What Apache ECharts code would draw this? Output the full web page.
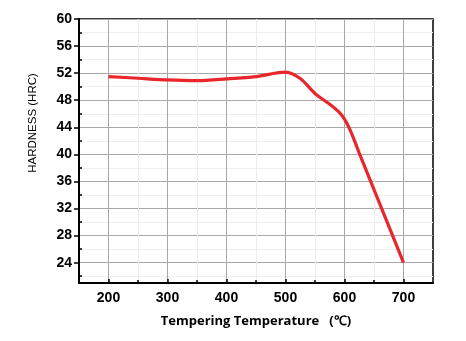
<!DOCTYPE html>
<html>
<head>
<meta charset="utf-8">
<script src="https://cdn.jsdelivr.net/npm/echarts@6/dist/echarts.min.js"></script>
<style>html,body{margin:0;padding:0;background:#fff}#c{width:466px;height:341px}</style>
</head>
<body>
<div id="c"></div>
<script>
var temps = [200, 250, 300, 350, 400, 450, 500, 525, 550, 575, 590, 600, 610, 625, 650, 675, 700];
var hardness = [51.5, 51.25, 51.0, 50.9, 51.15, 51.5, 52.15, 51.2, 49.0, 47.4, 46.3, 45.2, 43.5, 40.2, 34.8, 29.4, 24.0];
var xMajor = [200, 300, 400, 500, 600, 700];
var xMinor = [250, 350, 450, 550, 650];
var yMajor = [24, 28, 32, 36, 40, 44, 48, 52, 56, 60];
var yMinor = [22, 26, 30, 34, 38, 42, 46, 50, 54, 58];
var xTitle = 'Tempering Temperature   (\u2103)';
var yTitle = 'HARDNESS (HRC)';

var chart = echarts.init(document.getElementById('c'), null, {renderer: 'canvas'});
var labelFont = {color: '#000', fontWeight: 'bold', fontSize: 14, fontFamily: 'Liberation Sans, Arial, sans-serif'};
chart.setOption({
  animation: false,
  backgroundColor: '#fff',
  grid: {left: 79, right: 33, top: 19, bottom: 58, show: true, borderColor: '#000', borderWidth: 1.5, containLabel: false},
  xAxis: [{
    type: 'value', min: 150, max: 750, position: 'bottom',
    name: xTitle, nameLocation: 'middle', nameGap: 32,
    nameTextStyle: {color: '#000', fontWeight: 'bold', fontSize: 13, fontFamily: 'Open Sans, sans-serif'},
    axisLine: {show: true, lineStyle: {color: '#000', width: 2}},
    axisTick: {show: true, inside: true, length: 4, customValues: xMajor, lineStyle: {color: '#000', width: 1.5}},
    axisLabel: Object.assign({customValues: xMajor, margin: 8}, labelFont),
    splitLine: {show: true, lineStyle: {color: '#a8a8a8', width: 1}}
  }, {
    type: 'value', min: 150, max: 750, position: 'bottom', offset: 0,
    axisLine: {show: false},
    axisTick: {show: true, inside: true, length: 3, customValues: xMinor, lineStyle: {color: '#000', width: 1.5}},
    axisLabel: {show: false, customValues: xMinor},
    splitLine: {show: true, lineStyle: {color: '#ececec', width: 1}}
  }],
  yAxis: [{
    type: 'value', min: 21, max: 60, position: 'left',
    axisLine: {show: true, lineStyle: {color: '#000', width: 2}},
    axisTick: {show: true, inside: false, length: 5, customValues: yMajor, lineStyle: {color: '#000', width: 1.5}},
    axisLabel: Object.assign({customValues: yMajor, margin: 7}, labelFont),
    splitLine: {show: true, lineStyle: {color: '#a8a8a8', width: 1}}
  }, {
    type: 'value', min: 21, max: 60, position: 'left', offset: 0,
    axisLine: {show: false},
    axisTick: {show: true, inside: true, length: 3, customValues: yMinor, lineStyle: {color: '#000', width: 1.5}},
    axisLabel: {show: false, customValues: yMinor},
    splitLine: {show: true, lineStyle: {color: '#efefef', width: 1}}
  }],
  graphic: [{
    type: 'text', x: 33, y: 123, rotation: Math.PI / 2,
    style: {text: yTitle, fill: '#000', font: '11.5px "Liberation Sans", Arial, sans-serif', textAlign: 'center', textVerticalAlign: 'middle'}
  }],
  series: [{
    type: 'line', xAxisIndex: 0, yAxisIndex: 0,
    data: temps.map(function (t, i) { return [t, hardness[i]]; }),
    smooth: 0.3, showSymbol: false, symbol: 'none',
    lineStyle: {color: '#e8262b', width: 3.2}
  }]
});
</script>
</body>
</html>
